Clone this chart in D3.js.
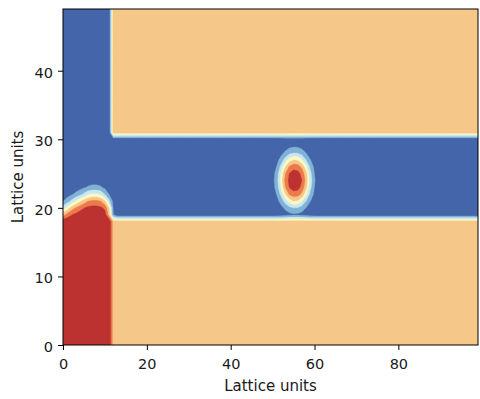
<!DOCTYPE html>
<html>
<head>
<meta charset="utf-8">
<script src="https://cdn.jsdelivr.net/npm/d3@7"></script>
<style>
  html, body { margin: 0; padding: 0; background: #fff; }
  svg { display: block; }
  text { font-family: "DejaVu Sans", sans-serif; fill: #1a1a1a; }
</style>
</head>
<body>
<svg id="chart" width="480" height="399"></svg>
<script>
// Lattice size (cells along x and y)
const latticeNx = 100;
const latticeNy = 50;

// Axis ticks
const xTicks = [0, 20, 40, 60, 80];
const yTicks = [0, 10, 20, 30, 40];
const axisLabel = "Lattice units";

// Filled-contour levels of the order parameter and the band colours between them
const levels = [-0.75, -0.45, -0.15, 0.15, 0.45, 0.75];
const bandColors = ["#4465a9", "#7fb2d4", "#c9e7f0", "#fcf8c2", "#f5c88a", "#ee7a4c", "#bb3230"];

// Solid walls of the T-junction, as lattice cell ranges [x0, x1, y0, y1]
const solidBlocks = [
  [12, 99, 0, 18],
  [12, 99, 31, 49]
];
const solidValue = 0.3;

// Phase values: continuous phase (blue) and dispersed phase (red)
const continuousPhase = -1;
const dispersedPhase = 1;

// Inlet channel filled with the dispersed phase [x0, x1, y0, y1]
const inletBlock = [0, 11, 0, 18];

// Zero level of the meniscus bulging out of the inlet (lattice units)
const meniscusX = [-3, 0, 2, 4, 6, 7.5, 9, 10.3, 11.05, 11.25, 11.25, -3];
const meniscusY = [19.3, 19.5, 20.4, 21.1, 21.7, 21.9, 21.7, 21.1, 20.3, 19.3, 10, 10];
const meniscusWidth = 1.45;
const meniscusStretchX = 1.8;

// Detached droplet in the main channel
const dropletCenter = [55.3, 24.0];
const dropletRadius = 3.25;
const dropletWidth = 1.6;

// ---- build the order-parameter field on the lattice ----
const inRange = ([x0, x1, y0, y1], i, j) => i >= x0 && i <= x1 && j >= y0 && j <= y1;

const meniscusPoly = meniscusX.map((mx, k) => [mx, meniscusY[k]]);

function segmentDistance(px, py, ax, ay, bx, by) {
  const dx = bx - ax, dy = by - ay;
  const t = Math.max(0, Math.min(1, ((px - ax) * dx + (py - ay) * dy) / (dx * dx + dy * dy)));
  return Math.hypot(px - (ax + t * dx), py - (ay + t * dy));
}

// signed distance to the meniscus outline, measured with x stretched
function meniscusDistance(i, j) {
  const s = meniscusStretchX;
  let dmin = Infinity;
  for (let k = 0; k < meniscusPoly.length; k++) {
    const a = meniscusPoly[k], b = meniscusPoly[(k + 1) % meniscusPoly.length];
    dmin = Math.min(dmin, segmentDistance(i * s, j, a[0] * s, a[1], b[0] * s, b[1]));
  }
  return d3.polygonContains(meniscusPoly, [i, j]) ? dmin : -dmin;
}

const field = new Array(latticeNx * latticeNy);
for (let j = 0; j < latticeNy; j++) {
  for (let i = 0; i < latticeNx; i++) {
    let v;
    if (solidBlocks.some(b => inRange(b, i, j))) {
      v = solidValue;
    } else if (inRange(inletBlock, i, j)) {
      v = dispersedPhase;
    } else {
      v = continuousPhase;
      if (i <= 14) v = Math.max(v, Math.tanh(meniscusDistance(i, j) / meniscusWidth));
      const r = Math.hypot(i - dropletCenter[0], j - dropletCenter[1]);
      v = Math.max(v, Math.tanh((dropletRadius - r) / dropletWidth));
    }
    field[i + j * latticeNx] = v;
  }
}

// ---- layout ----
const svg = d3.select("#chart");
const plot = { left: 63, top: 9, right: 478, bottom: 345 };

const x = d3.scaleLinear().domain([0, latticeNx - 1]).range([plot.left, plot.right]);
const y = d3.scaleLinear().domain([0, latticeNy - 1]).range([plot.bottom, plot.top]);
const color = d3.scaleThreshold().domain(levels).range(bandColors);

svg.append("defs").append("clipPath").attr("id", "plot-clip")
  .append("rect")
  .attr("x", plot.left).attr("y", plot.top)
  .attr("width", plot.right - plot.left).attr("height", plot.bottom - plot.top);

// contour coordinates put sample (i, j) at (i + 0.5, j + 0.5)
const toScreen = d3.geoTransform({
  point(px, py) { this.stream.point(x(px - 0.5), y(py - 0.5)); }
});
const path = d3.geoPath(toScreen);

const bands = d3.contours().size([latticeNx, latticeNy]).thresholds(levels)(field);

const g = svg.append("g").attr("clip-path", "url(#plot-clip)");
g.append("rect")
  .attr("x", plot.left).attr("y", plot.top)
  .attr("width", plot.right - plot.left).attr("height", plot.bottom - plot.top)
  .attr("fill", color(-Infinity));
g.selectAll("path.band")
  .data(bands)
  .join("path")
  .attr("class", "band")
  .attr("d", path)
  .attr("fill", d => color(d.value))
  .attr("stroke", d => color(d.value))
  .attr("stroke-width", 0.3);

// ---- axes ----
const fontSize = 14.5;
const xAxis = svg.append("g")
  .attr("transform", `translate(0,${plot.bottom})`)
  .call(d3.axisBottom(x).tickValues(xTicks).tickFormat(d3.format("d")).tickSize(5).tickSizeOuter(0));
xAxis.select(".domain").remove();
xAxis.selectAll(".tick line").attr("stroke", "#000").attr("stroke-width", 1);
xAxis.selectAll(".tick text")
  .attr("y", 24).attr("dy", 0)
  .attr("font-size", fontSize).attr("font-family", "DejaVu Sans").attr("fill", "#1a1a1a");

const yAxis = svg.append("g")
  .attr("transform", `translate(${plot.left},0)`)
  .call(d3.axisLeft(y).tickValues(yTicks).tickFormat(d3.format("d")).tickSize(5).tickSizeOuter(0));
yAxis.select(".domain").remove();
yAxis.selectAll(".tick line").attr("stroke", "#000").attr("stroke-width", 1);
yAxis.selectAll(".tick text")
  .attr("x", -10).attr("dy", 6.3)
  .attr("font-size", fontSize).attr("font-family", "DejaVu Sans").attr("fill", "#1a1a1a");

// frame
svg.append("rect")
  .attr("x", plot.left).attr("y", plot.top)
  .attr("width", plot.right - plot.left).attr("height", plot.bottom - plot.top)
  .attr("fill", "none").attr("stroke", "#000").attr("stroke-width", 1);

// axis titles
svg.append("text")
  .attr("x", (plot.left + plot.right) / 2).attr("y", 391)
  .attr("text-anchor", "middle").attr("font-size", 15)
  .text(axisLabel);
svg.append("text")
  .attr("transform", `translate(23,${(plot.top + plot.bottom) / 2}) rotate(-90)`)
  .attr("text-anchor", "middle").attr("font-size", 15)
  .text(axisLabel);
</script>
</body>
</html>
